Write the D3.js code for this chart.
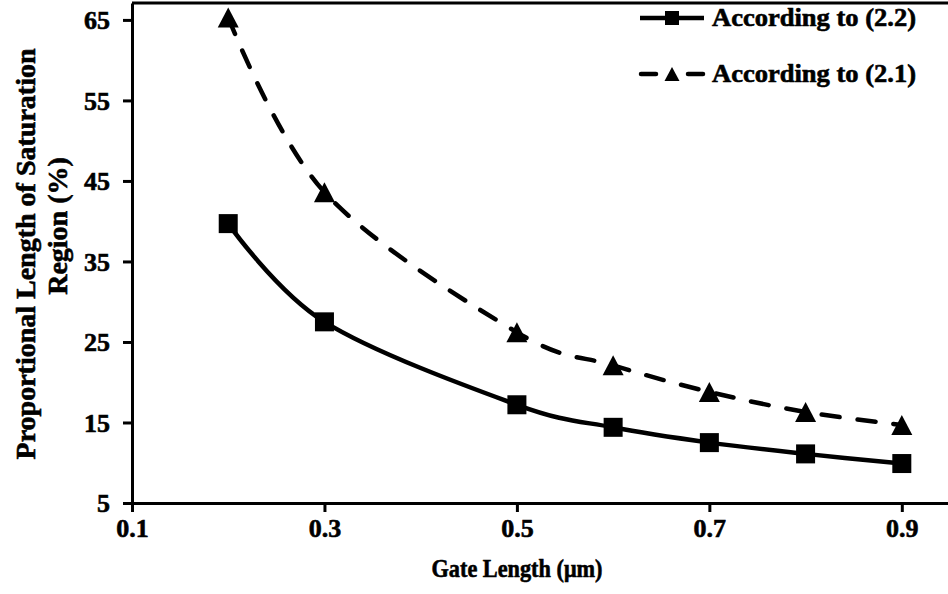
<!DOCTYPE html>
<html>
<head>
<meta charset="utf-8">
<script src="https://cdn.jsdelivr.net/npm/d3@7"></script>
<style>
  body { margin: 0; background: #fff; }
  text { font-family: "Liberation Serif", "Times New Roman", serif; font-weight: bold; fill: #000; stroke: #000; stroke-width: 0.6px; }
</style>
</head>
<body>
<div id="chart"></div>
<script>
// data
const gateLength = [0.2, 0.3, 0.5, 0.6, 0.7, 0.8, 0.9]
const eq22 = [39.7, 27.5, 17.2, 14.4, 12.5, 11.1, 9.9]
const eq21 = [65.3, 43.6, 26.2, 22.1, 18.8, 16.3, 14.7]
const xTicks = [0.1, 0.3, 0.5, 0.7, 0.9]
const yTicks = [5, 15, 25, 35, 45, 55, 65]
const seriesNames = ['According to (2.2)', 'According to (2.1)']

const width = 948
const height = 594
const plot = {left: 132, right: 948, top: 3, bottom: 503}

const svg = d3.select('#chart')
    .append('svg')
    .attr('width', width)
    .attr('height', height)

const x = d3.scaleLinear().domain([0.1, 0.948]).range([plot.left, plot.right])
const y = d3.scaleLinear().domain([5, 67.1]).range([plot.bottom, plot.top])

// top frame line
svg.append('line')
    .attr('x1', plot.left).attr('x2', plot.right)
    .attr('y1', plot.top).attr('y2', plot.top)
    .attr('stroke', '#000').attr('stroke-width', 3)

// axes
let xAxis = svg.append('g')
    .attr('transform', `translate(0,${plot.bottom})`)
    .call(d3.axisBottom(x).tickValues(xTicks).tickFormat(d3.format('.1f')).tickSize(9).tickSizeOuter(0))
let yAxis = svg.append('g')
    .attr('transform', `translate(${plot.left},0)`)
    .call(d3.axisLeft(y).tickValues(yTicks).tickSize(9).tickSizeOuter(0))

for (let ax of [xAxis, yAxis]){
    ax.attr('font-family', null).attr('font-size', null)
    ax.select('.domain').attr('stroke', '#000').attr('stroke-width', 3)
    ax.selectAll('.tick line').attr('stroke', '#000').attr('stroke-width', 3)
    ax.selectAll('.tick text').style('font-size', '26px')
}
xAxis.selectAll('.tick text').attr('y', 16)
yAxis.selectAll('.tick text').attr('x', -22).attr('dy', '0.33em')

// lines
const line = d3.line()
    .x((d, i) => x(gateLength[i]))
    .y(d => y(d))
    .curve(d3.curveCatmullRom.alpha(0))

svg.append('path')
    .datum(eq21)
    .attr('d', line)
    .attr('fill', 'none')
    .attr('stroke', '#000')
    .attr('stroke-width', 4.5)
    .attr('stroke-dasharray', '18,18')
    .attr('stroke-linecap', 'round')

svg.append('path')
    .datum(eq22)
    .attr('d', line)
    .attr('fill', 'none')
    .attr('stroke', '#000')
    .attr('stroke-width', 4.5)

// markers
const sq = 19
svg.append('g').selectAll('rect')
    .data(eq22)
    .join('rect')
    .attr('x', (d, i) => x(gateLength[i]) - sq/2)
    .attr('y', d => y(d) - sq/2)
    .attr('width', sq)
    .attr('height', sq)
    .attr('fill', '#000')

const tri = (cx, cy, w, h) => `M${cx},${cy - h/2}L${cx + w/2},${cy + h/2}L${cx - w/2},${cy + h/2}Z`
svg.append('g').selectAll('path')
    .data(eq21)
    .join('path')
    .attr('d', (d, i) => tri(x(gateLength[i]), y(d), 21, 20))
    .attr('fill', '#000')

// legend
const legend = svg.append('g')
const rows = [{y: 18, name: seriesNames[0], shape: 'square'}, {y: 74, name: seriesNames[1], shape: 'triangle'}]
for (let r of rows){
    let g = legend.append('g').attr('transform', `translate(0,${r.y})`)
    if (r.shape == 'square'){
        g.append('line').attr('x1', 640).attr('x2', 704).attr('y1', 0).attr('y2', 0)
            .attr('stroke', '#000').attr('stroke-width', 4.5)
        g.append('rect').attr('x', 672 - 7).attr('y', -7).attr('width', 14).attr('height', 14).attr('fill', '#000')
    } else {
        g.append('line').attr('x1', 641).attr('x2', 656).attr('y1', 0).attr('y2', 0)
            .attr('stroke', '#000').attr('stroke-width', 4.5).attr('stroke-linecap', 'round')
        g.append('line').attr('x1', 688).attr('x2', 703).attr('y1', 0).attr('y2', 0)
            .attr('stroke', '#000').attr('stroke-width', 4.5).attr('stroke-linecap', 'round')
        g.append('path').attr('d', tri(672, 0, 15, 14)).attr('fill', '#000')
    }
    g.append('text')
        .attr('x', 712)
        .attr('y', 0)
        .attr('dy', '0.33em')
        .style('font-size', '25px')
        .attr('textLength', 204)
        .attr('lengthAdjust', 'spacingAndGlyphs')
        .text(r.name)
}

// axis titles
svg.append('text')
    .attr('x', 517)
    .attr('y', 577)
    .attr('text-anchor', 'middle')
    .style('font-size', '25px')
    .attr('textLength', 171)
    .attr('lengthAdjust', 'spacingAndGlyphs')
    .text('Gate Length (μm)')

svg.append('text')
    .attr('transform', 'translate(35,254) rotate(-90)')
    .attr('text-anchor', 'middle')
    .style('font-size', '28px')
    .text('Proportional Length of Saturation')

svg.append('text')
    .attr('transform', 'translate(67,226) rotate(-90)')
    .attr('text-anchor', 'middle')
    .style('font-size', '28px')
    .text('Region (%)')
</script>
</body>
</html>
